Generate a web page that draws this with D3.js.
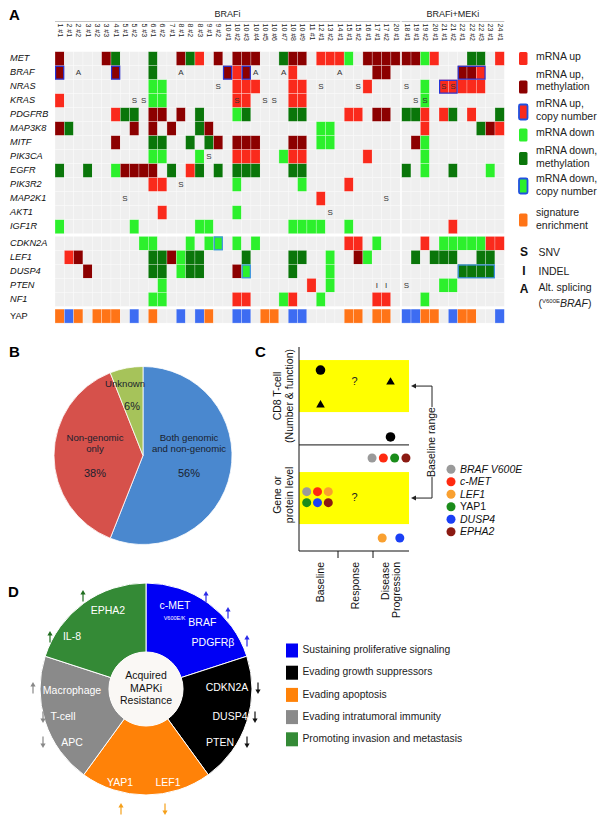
<!DOCTYPE html>
<html><head><meta charset="utf-8">
<script src="https://cdn.jsdelivr.net/npm/d3@7"></script>
<style>
html,body{margin:0;padding:0;background:#fff;}
svg{display:block;}
text{font-family:"Liberation Sans",Arial,Helvetica,sans-serif;}
</style></head><body>
<svg id="fig" width="607" height="825"></svg>
<script>
// ================= DATA: Panel A =================
const samplesBRAFi = ["1 #1","2 #1","2 #2","3 #1","3 #2","3 #3","4 #1","5 #1","5 #2","5 #3","6 #1","6 #2","7 #1","8 #1","8 #2","8 #3","9 #1","9 #2","10 #1","10 #2","10 #3","10 #4","10 #5","10 #6","10 #7","10 #8","10 #9","11 #1","12 #1","13 #2","14 #1","15 #1","15 #2","16 #1","17 #1","17 #2","20 #1"];
const samplesCombo = ["18 #1","19 #1","19 #2","20 #1","21 #1","21 #2","22 #1","22 #2","22 #3","23 #1","24 #1"];
const genesA = ["MET","BRAF","NRAS","KRAS","PDGFRB","MAP3K8","MITF","PIK3CA","EGFR","PIK3R2","MAP2K1","AKT1","IGF1R","CDKN2A","LEF1","DUSP4","PTEN","NF1","YAP"];
const sectionStarts = ["CDKN2A","YAP"];
// r = mRNA up, R = mRNA up + methylation, g = mRNA down, G = mRNA down + methylation, o = signature enrichment, b = no enrichment (blue)
const statusBRAFi = [
"R....RG...G..RGr.R.RRR..GRR.rrrg.RRRR",
"R.....R...G.......RrR....r........RR.",
"..........gg.......rrr...rr......r...",
"r.........gg.......rr....rr..........",
"......rGG.RR.R.G...gG....GG....rr.RR.",
"RG......R.R.R..GR...........gg.......",
"......R...GG..G.GR.RRR...RR.gg.......",
"..........gg...g...rrr..grr......r...",
"G..G..gRRRR.G.rG.G.GGG...GG..........",
"..........rr.......g......g....r.....",
"............................r........",
"...........r.......g.................",
"g.......g......gg........gggg..g.....",
".........gg...g.gg.g.g.........rr.g..",
".rR.......GGRgGG....G....GG..g..Rg...",
"...R......GG.gGG...Rg....G...g.......",
"...........g...............r.g.......",
"..........gg.......rr...gr..g.....rr.",
"obo.ooo.b.o..b.bo..bb.oo.bb....oo.oo."
];
const statusCombo = [
"RRgr...GG.r",
"......RRr..",
"..g.rrrrr..",
"..g........",
"GGr.rG.r..G",
"..r.....GRr",
".Rg........",
"..g........",
"G.g..G...g.",
"...........",
"...........",
"...........",
".....r.....",
"..r.gggggrr",
".G.GGG..GG.",
"......GGGG.",
"....gg.....",
"..g........",
"bboo.boo..b"
];
// sample index counts BRAFi samples first, then BRAFi+MEKi samples
const snvCalls = [["NRAS",17],["NRAS",28],["NRAS",32],["NRAS",37],["NRAS",41],["NRAS",42],["KRAS",8],["KRAS",9],["KRAS",19],["KRAS",22],["KRAS",23],["KRAS",38],["KRAS",39],["PIK3CA",16],["PIK3R2",13],["MAP2K1",7],["MAP2K1",35],["AKT1",29],["PTEN",37]];
const indelCalls = [["PTEN",34],["PTEN",35]];
const altSpliceCalls = [["BRAF",2],["BRAF",13],["BRAF",21],["BRAF",24],["BRAF",30]];
const copyUp = [["BRAF",0],["BRAF",6],["BRAF",18],["BRAF",20],["BRAF",43],["BRAF",44],["BRAF",45],["NRAS",41],["NRAS",42]];
const copyDown = [["CDKN2A",17],["DUSP4",20],["DUSP4",43],["DUSP4",44],["DUSP4",45],["DUSP4",46]];
const groupNames = ["BRAFi","BRAFi+MEKi"];
const legendAKeys = ["r","R","rc","g","G","gc","o"];
const legendALabels = [["mRNA up"],["mRNA up,","methylation"],["mRNA up,","copy number"],["mRNA  down"],["mRNA down,","methylation"],["mRNA down,","copy number"],["signature","enrichment"]];
const legendASymbols = ["S","I","A"];
const legendASymbolLabels = ["SNV","INDEL","Alt. splicing"];

// ================= DATA: Panel B =================
const pieLabels = [["Both genomic","and non-genomic"],["Non-genomic","only"],["Unknown"]];
const pieValues = [56,38,6];

// ================= DATA: Panel C =================
const stages = ["Baseline","Response","Disease Progression"];
const cGenes = ["BRAF V600E","c-MET","LEF1","YAP1","DUSP4","EPHA2"];
const cd8Stage = ["Baseline","Baseline","Disease Progression","Disease Progression"];
const cd8Level = [88.7,71.6,82.8,55.9];
const cd8Shape = ["circle","triangle","triangle","circle"];
const geneDotStage = ["Disease Progression","Baseline","Baseline","Disease Progression"];
const geneDotLevel = [45.6,29.1,23.7,6.4];
const geneDotGenes = [["BRAF V600E","c-MET","YAP1","EPHA2"],["BRAF V600E","c-MET","LEF1"],["YAP1","DUSP4","EPHA2"],["LEF1","DUSP4"]];
const baselineRanges = [[68.1,93.6],[13.2,38.7]];
const unknownLevels = [82.8,26.0];
const panelDivider = 52;

// ================= DATA: Panel D =================
const hallmarks = ["Sustaining proliferative signaling","Evading growth suppressors","Evading apoptosis","Evading intratumoral immunity","Promoting invasion and metastasis"];
const dGenes = ["c-MET","BRAF","PDGFRβ","CDKN2A","DUSP4","PTEN","LEF1","YAP1","APC","T-cell","Macrophage","IL-8","EPHA2"];
const dGeneHallmark = [0,0,0,1,1,1,2,2,3,3,3,4,4];
const dGeneDirection = ["up","up","up","down","down","down","down","up","down","down","up","up","up"];

// ================= STYLE / LAYOUT =================
const cellColor = {r:"#fa2a1c", R:"#8c0000", g:"#2cf02c", G:"#0a760a", o:"#ff7417", b:"#3d6cf2"};
const cnUpStroke = "#2434d8", cnDownStroke = "#3f8fe6";
const pieColors = ["#4a88cf","#d6514b","#a6c35a"];
const cColors = {"BRAF V600E":"#9a9a9a","c-MET":"#ff2a10","LEF1":"#f9a030","YAP1":"#1a8c1a","DUSP4":"#1a3ff5","EPHA2":"#8b1a12"};
const hallmarkColors = ["#0000f5","#000000","#ff8208","#8a8a8a","#348a36"];
const arrowColors = ["#2a2ae8","#111111","#f5a01a","#888888","#1f6e1f"];

const svg = d3.select("#fig");
svg.append("rect").attr("width",607).attr("height",825).attr("fill","#fff");

function panelLetter(t,x,y){
  svg.append("text").attr("x",x).attr("y",y).attr("font-size",15).attr("font-weight","bold").attr("fill","#000").text(t);
}

// ================= PANEL A =================
panelLetter("A",9,20);
const A = svg.append("g");
const nB = samplesBRAFi.length, nC = samplesCombo.length;
const xB = d3.scaleBand().domain(samplesBRAFi).range([55,400.2]);
const xC = d3.scaleBand().domain(samplesCombo).range([401.7,504.3]);
const colX = i => i < nB ? xB(samplesBRAFi[i]) : xC(samplesCombo[i-nB]);
const colW = i => i < nB ? xB.bandwidth() : xC.bandwidth();
const yA = d3.scaleBand().domain(genesA).range([51.7, 51.7 + genesA.length*14]);
const rowH = yA.bandwidth();
const sectionOf = g => sectionStarts.filter(s => genesA.indexOf(g) >= genesA.indexOf(s)).length;
const rowY = g => yA(g) + sectionOf(g)*2.7;

// group headers
[[xB,groupNames[0]],[xC,groupNames[1]]].forEach(([sc,name]) => {
  const [a,b] = sc.range();
  A.append("text").attr("x",(a+b)/2).attr("y",17).attr("text-anchor","middle").attr("font-size",9).attr("fill","#222").text(name);
  A.append("line").attr("x1",a).attr("x2",b).attr("y1",21.5).attr("y2",21.5).attr("stroke","#aaa").attr("stroke-width",0.7);
});
// column labels
const allSamples = samplesBRAFi.concat(samplesCombo);
allSamples.forEach((s,i) => {
  A.append("text").attr("transform",`translate(${colX(i)+colW(i)/2},23.5) rotate(90)`)
   .attr("font-size",7).attr("dominant-baseline","middle").attr("fill","#222").text(s);
});
// row labels
genesA.forEach(g => {
  A.append("text").attr("x",10).attr("y",rowY(g)+rowH/2).attr("dominant-baseline","middle")
   .attr("font-size",9.2).attr("font-style", g==="YAP" ? "normal" : "italic").attr("fill","#111").text(g);
});
// cells
const cells = [];
genesA.forEach((g,gi) => {
  const s = statusBRAFi[gi].padEnd(nB,".").slice(0,nB) + statusCombo[gi].padEnd(nC,".").slice(0,nC);
  for (let ci=0; ci<nB+nC; ci++) cells.push({g, ci, c:s[ci]});
});
A.selectAll("rect.cell").data(cells).join("rect").attr("class","cell")
  .attr("x",d=>colX(d.ci)).attr("y",d=>rowY(d.g)).attr("width",d=>colW(d.ci)).attr("height",rowH)
  .attr("fill",d=>d.c==="." ? "#efefef" : cellColor[d.c])
  .attr("stroke","rgba(255,255,255,0.45)").attr("stroke-width",0.6);
// copy-number outlines (merge consecutive samples)
function runs(list){
  const out = [];
  const byGene = d3.group(list, d=>d[0]);
  byGene.forEach((arr,g) => {
    const idx = arr.map(d=>d[1]).sort((a,b)=>a-b);
    let start = idx[0], prev = idx[0];
    for (let k=1; k<=idx.length; k++){
      const cur = idx[k];
      if (k<idx.length && cur===prev+1 && (cur<nB)===(prev<nB)) { prev = cur; continue; }
      out.push({g, a:start, b:prev}); start = cur; prev = cur;
    }
  });
  return out;
}
[[copyUp,cnUpStroke],[copyDown,cnDownStroke]].forEach(([list,col]) => {
  runs(list).forEach(r => {
    A.append("rect").attr("x",colX(r.a)+0.6).attr("y",rowY(r.g)+0.6)
      .attr("width",colX(r.b)+colW(r.b)-colX(r.a)-1.2).attr("height",rowH-1.2)
      .attr("fill","none").attr("stroke",col).attr("stroke-width",1.2);
  });
});
// mutation letters
[[snvCalls,"S"],[indelCalls,"I"],[altSpliceCalls,"A"]].forEach(([list,letter]) => {
  list.forEach(([g,ci]) => {
    A.append("text").attr("x",colX(ci)+colW(ci)/2).attr("y",rowY(g)+rowH/2+0.5)
     .attr("text-anchor","middle").attr("dominant-baseline","middle").attr("font-size",8)
     .attr("fill","#333").text(letter);
  });
});
// legend A
const legSwY = [58.5,87,112,135,158.5,186,220];
const legTxY = [57,81,110.5,133,157.5,185.5,219.5];
legendAKeys.forEach((k,i) => {
  const base = k[0], cn = k.length>1;
  const h = cn ? 15 : 13;
  A.append("rect").attr("x",519).attr("y",legSwY[i]-h/2).attr("width",8.5).attr("height",h).attr("rx",1.5)
   .attr("fill",cellColor[base]).attr("stroke",cn?"#2050e0":"none").attr("stroke-width",cn?1.8:0);
  const lines = legendALabels[i];
  lines.forEach((t,j) => {
    A.append("text").attr("x",536).attr("y",legTxY[i] + (j - (lines.length-1)/2)*12.5)
     .attr("dominant-baseline","middle").attr("font-size",10.5).attr("fill","#222").text(t);
  });
});
const symY = [253,272,290];
legendASymbols.forEach((s,i) => {
  A.append("text").attr("x",524).attr("y",symY[i]).attr("text-anchor","middle").attr("dominant-baseline","middle")
   .attr("font-size",12).attr("font-weight","bold").attr("fill","#111").text(s);
  A.append("text").attr("x",538.5).attr("y",symY[i]-(i===2?1.5:0)).attr("dominant-baseline","middle")
   .attr("font-size",10.5).attr("fill","#222").text(legendASymbolLabels[i]);
});
{
  const t = A.append("text").attr("x",538.5).attr("y",304).attr("dominant-baseline","middle").attr("font-size",10.5).attr("fill","#222");
  t.append("tspan").text("(");
  t.append("tspan").attr("font-size",6).attr("dy",-3).text("V600E");
  t.append("tspan").attr("font-style","italic").attr("dy",3).text("BRAF");
  t.append("tspan").text(")");
}

// ================= PANEL B =================
panelLetter("B",9,357);
const pc = [143,455.5], pr = 89;
const pie = d3.pie().sort(null).value(d=>d)(pieValues);
const pieArc = d3.arc().innerRadius(0).outerRadius(pr);
const B = svg.append("g").attr("transform",`translate(${pc[0]},${pc[1]})`);
B.selectAll("path").data(pie).join("path").attr("d",pieArc)
  .attr("fill",(d,i)=>pieColors[i]).attr("stroke","#fff").attr("stroke-width",0.8);
const pieLabelPos = [[46,0],[-48,0],[-18,-61]];
pie.forEach((d,i) => {
  const [dx,dy] = pieLabelPos[i];
  const lines = pieLabels[i];
  const pct = d.data + "%";
  if (i < 2) {
    lines.forEach((t,j) => B.append("text").attr("x",dx).attr("y",dy-17.5+j*11).attr("text-anchor","middle")
      .attr("dominant-baseline","middle").attr("font-size",9.6).attr("fill","#1a1f2e").text(t));
    B.append("text").attr("x",dx).attr("y",dy+18.5).attr("text-anchor","middle").attr("dominant-baseline","middle")
      .attr("font-size",11).attr("fill","#1a1f2e").text(pct);
  } else {
    B.append("text").attr("x",dx).attr("y",dy-10).attr("text-anchor","middle").attr("dominant-baseline","middle")
      .attr("font-size",9.6).attr("fill","#1a1f2e").text(lines[0]);
    B.append("text").attr("x",dx+7).attr("y",dy+13).attr("text-anchor","middle").attr("dominant-baseline","middle")
      .attr("font-size",11).attr("fill","#1a1f2e").text(pct);
  }
});

// ================= PANEL C =================
panelLetter("C",255,357);
const C = svg.append("g");
const xS = d3.scaleBand().domain(stages).range([303,408]);
const yL = d3.scaleLinear().domain([0,100]).range([551,347]);
const cLeft = 299, cRight = 409;
baselineRanges.forEach(([lo,hi]) => {
  C.append("rect").attr("x",cLeft).attr("y",yL(hi)).attr("width",cRight-cLeft).attr("height",yL(lo)-yL(hi)).attr("fill","#ffff00");
});
C.append("line").attr("x1",cLeft).attr("x2",cLeft).attr("y1",yL(100)).attr("y2",yL(0)).attr("stroke","#111").attr("stroke-width",1);
C.append("line").attr("x1",cLeft).attr("x2",cRight).attr("y1",yL(0)).attr("y2",yL(0)).attr("stroke","#111").attr("stroke-width",1);
C.append("line").attr("x1",cLeft).attr("x2",cRight).attr("y1",yL(panelDivider)).attr("y2",yL(panelDivider)).attr("stroke","#111").attr("stroke-width",1);
stages.slice(1).forEach(s => {
  C.append("line").attr("x1",xS(s)).attr("x2",xS(s)).attr("y1",yL(0)).attr("y2",yL(0)+7).attr("stroke","#111").attr("stroke-width",1);
});
// x labels
stages.forEach(s => {
  const cx = xS(s)+xS.bandwidth()/2;
  const parts = s === "Disease Progression" ? ["Disease","Progression"] : [s];
  parts.forEach((p,j) => {
    const x = cx + 1 + (j-(parts.length-1)/2)*11.5;
    C.append("text").attr("transform",`translate(${x},562) rotate(-90)`).attr("text-anchor","end")
     .attr("dominant-baseline","middle").attr("font-size",10.5).attr("fill","#111").text(p);
  });
});
// y labels
[[["CD8 T-cell","(Number & function)"],(100+panelDivider)/2],[["Gene or","protein level"],panelDivider/2+1.5]].forEach(([lines,lvl]) => {
  lines.forEach((t,j) => {
    C.append("text").attr("transform",`translate(${278+j*12},${yL(lvl)}) rotate(-90)`).attr("text-anchor","middle")
     .attr("dominant-baseline","middle").attr("font-size",10.5).attr("fill","#111").text(t);
  });
});
// CD8 markers
cd8Level.forEach((lv,i) => {
  const cx = xS(cd8Stage[i]) + xS.bandwidth()/2;
  if (cd8Shape[i]==="circle") C.append("circle").attr("cx",cx).attr("cy",yL(lv)).attr("r",4.8).attr("fill","#000");
  else C.append("path").attr("transform",`translate(${cx},${yL(lv)})`).attr("d",d3.symbol(d3.symbolTriangle,32)()).attr("fill","#000");
});
// question marks
unknownLevels.forEach(lv => {
  C.append("text").attr("x",xS("Response")+xS.bandwidth()/2-1).attr("y",yL(lv)).attr("text-anchor","middle")
   .attr("dominant-baseline","middle").attr("font-size",11).attr("fill","#222").text("?");
});
// gene dots
const dotSpacing = [11.3,10.8,10.8,17.6];
geneDotGenes.forEach((gl,k) => {
  const cx = xS(geneDotStage[k]) + xS.bandwidth()/2 - (k===0?1.5:(k<3?3:-0.5));
  gl.forEach((g,i) => {
    C.append("circle").attr("cx",cx + (i-(gl.length-1)/2)*dotSpacing[k]).attr("cy",yL(geneDotLevel[k]))
     .attr("r",4.5).attr("fill",cColors[g]);
  });
});
// baseline range bracket
{
  const bx = 432, tipX = 411;
  const yTop = yL(d3.mean(baselineRanges[0])), yBot = yL(d3.mean(baselineRanges[1]));
  const yMid = (yTop+yBot)/2;
  C.append("line").attr("x1",bx).attr("x2",bx).attr("y1",yTop).attr("y2",yMid-35).attr("stroke","#222").attr("stroke-width",1);
  C.append("line").attr("x1",bx).attr("x2",bx).attr("y1",yMid+35).attr("y2",yBot).attr("stroke","#222").attr("stroke-width",1);
  [yTop,yBot].forEach(y => {
    C.append("line").attr("x1",bx).attr("x2",tipX+4).attr("y1",y).attr("y2",y).attr("stroke","#222").attr("stroke-width",1);
    C.append("path").attr("d",`M${tipX},${y} L${tipX+5},${y-2.5} L${tipX+5},${y+2.5} Z`).attr("fill","#222");
  });
  C.append("text").attr("transform",`translate(${bx},${yMid}) rotate(-90)`).attr("text-anchor","middle")
   .attr("dominant-baseline","middle").attr("font-size",10.5).attr("fill","#111").text("Baseline range");
}
// legend C
cGenes.forEach((g,i) => {
  const y = 469.3 + i*12.5;
  C.append("circle").attr("cx",451).attr("cy",y).attr("r",4.5).attr("fill",cColors[g]);
  C.append("text").attr("x",460).attr("y",y+0.5).attr("dominant-baseline","middle").attr("font-size",10.5)
   .attr("font-style", g==="YAP1" ? "normal" : "italic").attr("fill","#111").text(g);
});

// ================= PANEL D =================
panelLetter("D",8,597);
const dc = [146,689], dR = 106, dr = 37;
const D = svg.append("g").attr("transform",`translate(${dc[0]},${dc[1]})`);
const dPie = d3.pie().sort(null).value(()=>1)(hallmarks);
const dArc = d3.arc().innerRadius(dr).outerRadius(dR);
D.selectAll("path.seg").data(dPie).join("path").attr("class","seg").attr("d",dArc)
  .attr("fill",(d,i)=>hallmarkColors[i]).attr("stroke","#fff").attr("stroke-width",1);
D.append("circle").attr("r",dr).attr("fill","#faf8f5");
["Acquired","MAPKi","Resistance"].forEach((t,j) => {
  D.append("text").attr("x",0).attr("y",(j-1)*12.5).attr("text-anchor","middle").attr("dominant-baseline","middle")
   .attr("font-size",10.5).attr("fill","#111").text(t);
});
const dLabelPos = [[29,-83],[44,-66],[67,-46],[81,-1],[84,28],[74,54],[22,94],[-26,94],[-74,54],[-83,28],[-74,2],[-74,-52],[-38,-78]];
const dArrowPos = [[60,-92],[82,-76],[101,-48],[112,-1],[109,28],[101,53],[19,120],[-25,120],[-103,53],[-103,28],[-113,-1],[-96,-52],[-63,-93]];
dGenes.forEach((g,i) => {
  const [lx,ly] = dLabelPos[i];
  const t = D.append("text").attr("x",lx).attr("y",ly).attr("text-anchor","middle").attr("dominant-baseline","middle")
   .attr("font-size",10.5).attr("fill","#fff");
  if (g === "BRAF") {
    t.append("tspan").attr("font-size",5.5).attr("dy",-4).text("V600E/K");
    t.append("tspan").attr("dy",4).text(" BRAF");
  } else t.text(g);
  const [ax,ay] = dArrowPos[i];
  const col = arrowColors[dGeneHallmark[i]];
  const s = dGeneDirection[i]==="up" ? -1 : 1;
  D.append("line").attr("x1",ax).attr("x2",ax).attr("y1",ay-s*5.5).attr("y2",ay+s*2.5).attr("stroke",col).attr("stroke-width",1.2);
  D.append("path").attr("d",`M${ax},${ay+s*6} L${ax-2.6},${ay+s*1.5} L${ax+2.6},${ay+s*1.5} Z`).attr("fill",col);
});
// legend D
hallmarks.forEach((h,i) => {
  const y = 650.5 + i*22.2;
  svg.append("rect").attr("x",286).attr("y",y-7).attr("width",12).attr("height",14).attr("fill",hallmarkColors[i]);
  svg.append("text").attr("x",302.5).attr("y",y).attr("dominant-baseline","middle").attr("font-size",10.3).attr("fill","#222").text(h);
});
</script>
</body></html>
